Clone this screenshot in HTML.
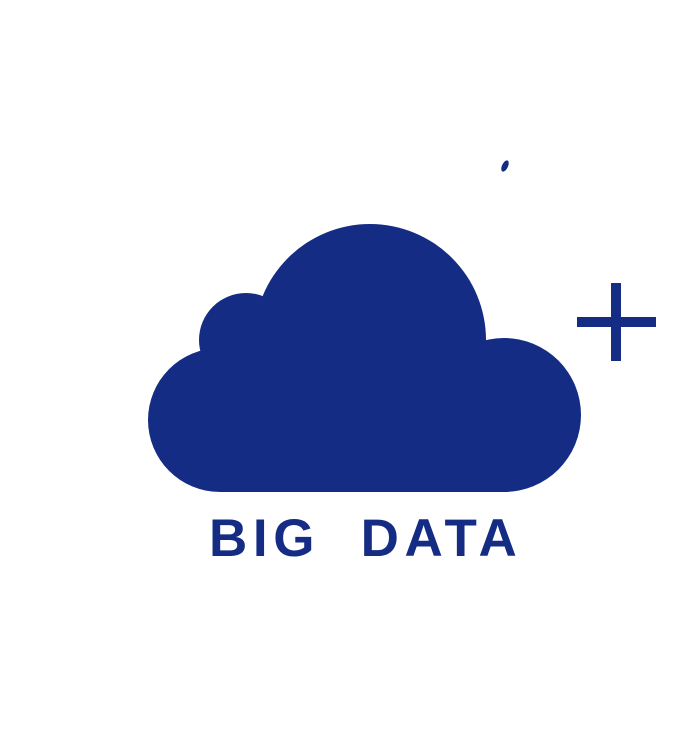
<!DOCTYPE html>
<html><head><style>
html,body{margin:0;padding:0;background:#fff;}
body{width:700px;height:736px;position:relative;overflow:hidden;}
.t{position:absolute;left:209px;top:509px;font-family:"Liberation Sans",sans-serif;font-weight:bold;font-size:53px;color:#142c84;letter-spacing:5.6px;white-space:pre;line-height:60px;}
</style></head><body>
<svg width="700" height="736" style="position:absolute;left:0;top:0">
<g fill="#142c84">
<circle cx="370" cy="340" r="116"/>
<circle cx="246" cy="340" r="47"/>
<circle cx="220" cy="420" r="72"/>
<circle cx="504" cy="415" r="77"/>
<rect x="220" y="340" width="284" height="152"/>
<rect x="577" y="317" width="79" height="10"/>
<rect x="611" y="283" width="10" height="78"/>
<ellipse cx="505" cy="166" rx="3" ry="6" transform="rotate(25 505 166)"/>
</g>
</svg>
<div class="t">BIG  DATA</div>
</body></html>
